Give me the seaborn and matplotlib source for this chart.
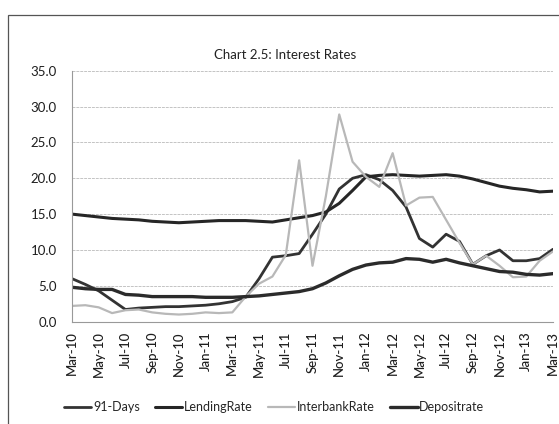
import matplotlib
matplotlib.use("Agg")
import matplotlib.pyplot as plt
import seaborn as sns
import pandas as pd
from matplotlib.patches import Rectangle

# Monthly observations, Mar-10 .. Mar-13
months = ["Mar-10", "Apr-10", "May-10", "Jun-10", "Jul-10", "Aug-10", "Sep-10", "Oct-10",
          "Nov-10", "Dec-10", "Jan-11", "Feb-11", "Mar-11", "Apr-11", "May-11", "Jun-11",
          "Jul-11", "Aug-11", "Sep-11", "Oct-11", "Nov-11", "Dec-11", "Jan-12", "Feb-12",
          "Mar-12", "Apr-12", "May-12", "Jun-12", "Jul-12", "Aug-12", "Sep-12", "Oct-12",
          "Nov-12", "Dec-12", "Jan-13", "Feb-13", "Mar-13"]

t_bill_91 = [6.0, 5.2, 4.3, 3.0, 1.7, 1.9, 2.0, 2.1, 2.1, 2.2, 2.3, 2.5, 2.8, 3.4, 6.0, 9.0,
             9.2, 9.5, 12.2, 15.0, 18.5, 20.0, 20.5, 19.8, 18.3, 16.0, 11.6, 10.4, 12.2, 11.2,
             8.0, 9.2, 10.0, 8.5, 8.5, 8.8, 10.1]
lending = [15.0, 14.8, 14.6, 14.4, 14.3, 14.2, 14.0, 13.9, 13.8, 13.9, 14.0, 14.1, 14.1, 14.1,
           14.0, 13.9, 14.2, 14.5, 14.8, 15.3, 16.5, 18.3, 20.2, 20.4, 20.5, 20.4, 20.3, 20.4,
           20.5, 20.3, 19.9, 19.4, 18.9, 18.6, 18.4, 18.1, 18.2]
interbank = [2.2, 2.3, 2.0, 1.2, 1.6, 1.7, 1.3, 1.1, 1.0, 1.1, 1.3, 1.2, 1.3, 3.5, 5.3, 6.3,
             9.3, 22.5, 7.8, 17.5, 28.9, 22.3, 20.2, 18.8, 23.5, 16.2, 17.3, 17.4, 14.2, 11.0,
             8.0, 9.2, 7.8, 6.2, 6.3, 8.5, 9.8]
deposit = [4.8, 4.6, 4.5, 4.5, 3.8, 3.7, 3.5, 3.5, 3.5, 3.5, 3.4, 3.4, 3.4, 3.5, 3.6, 3.8,
           4.0, 4.2, 4.6, 5.4, 6.4, 7.3, 7.9, 8.2, 8.3, 8.8, 8.7, 8.3, 8.7, 8.2, 7.8, 7.4,
           7.0, 6.9, 6.6, 6.5, 6.7]

series_names = ["91-Days", "LendingRate", "InterbankRate", "Depositrate"]
series_values = [t_bill_91, lending, interbank, deposit]

df = pd.concat(
    [pd.DataFrame({"month": range(len(months)), "rate": vals, "series": name})
     for name, vals in zip(series_names, series_values)],
    ignore_index=True,
)

sns.set_style("white")
plt.rcParams["font.family"] = ["Lato", "DejaVu Sans"]

fig = plt.figure(figsize=(5.59, 4.24), dpi=100)
fig.patches.append(Rectangle((8 / 559, -0.05), 1.2, 1 - 15 / 424 + 0.05,
                             transform=fig.transFigure, fill=False,
                             edgecolor="#555555", linewidth=0.9))

ax = fig.add_axes([72 / 559, 1 - 321.7 / 424, (553 - 72) / 559, (321.7 - 70.7) / 424])

palette = {"91-Days": "#333333", "LendingRate": "#262626",
           "InterbankRate": "#b8b8b8", "Depositrate": "#2b2b2b"}
widths = {"91-Days": 2.0, "LendingRate": 2.2, "InterbankRate": 1.6, "Depositrate": 2.4}

sns.lineplot(data=df, x="month", y="rate", hue="series", palette=palette,
             hue_order=series_names, ax=ax, legend=False, estimator=None)
for line, name in zip(ax.get_lines(), series_names):
    line.set_linewidth(widths[name])

ax.set_xlim(0, len(months) - 1)
ax.set_ylim(0, 35)
ax.set_yticks(range(0, 36, 5))
ax.set_yticklabels([f"{v:.1f}" for v in range(0, 36, 5)], fontsize=9.5, color="#1e1e1e")
ax.set_xticks(range(0, len(months), 2))
ax.set_xticklabels(months[::2], rotation=90, fontsize=9.5, color="#1e1e1e",
                   fontweight="medium")
ax.tick_params(axis="x", length=3, color="#888888", pad=4)
ax.tick_params(axis="y", length=0, pad=11)
ax.set_xlabel("")
ax.set_ylabel("")

ax.grid(axis="y", color="#c4c4c4", linewidth=0.7, linestyle=(0, (3, 1)))
ax.set_axisbelow(True)
for side in ["top", "right"]:
    ax.spines[side].set_visible(False)
ax.spines["left"].set_color("#999999")
ax.spines["bottom"].set_color("#999999")
ax.spines["left"].set_linewidth(0.8)
ax.spines["bottom"].set_linewidth(0.8)

fig.text(285 / 559, 1 - 55 / 424, "Chart 2.5: Interest Rates", ha="center", va="center",
         fontsize=9.5, color="#222222")

handles = [plt.Line2D([], [], color=palette[n], linewidth=widths[n]) for n in series_names]
fig.legend(handles, series_names, loc="center", bbox_to_anchor=(274 / 559, 1 - 407 / 424),
           ncol=4, frameon=False, fontsize=9, handlelength=2.2, handletextpad=0.15,
           columnspacing=1.2)

fig.savefig("out.png", dpi=100)
